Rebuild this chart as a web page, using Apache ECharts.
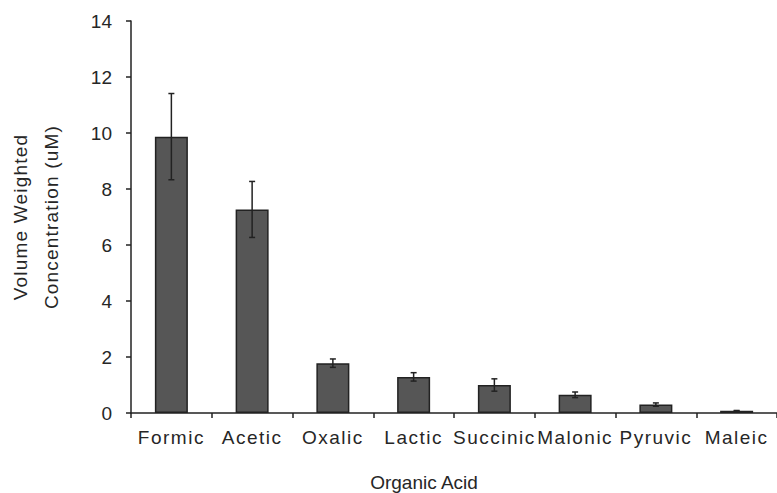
<!DOCTYPE html>
<html>
<head>
<meta charset="utf-8">
<style>
  html, body { margin: 0; padding: 0; background: #fff; }
  #chart { width: 777px; height: 493px; }
</style>
<script src="https://cdn.jsdelivr.net/npm/echarts@6/dist/echarts.min.js"></script>
</head>
<body>
<div id="chart"></div>
<script>
// Organic acid volume-weighted concentrations (uM) with standard error
const acids = ['Formic', 'Acetic', 'Oxalic', 'Lactic', 'Succinic', 'Malonic', 'Pyruvic', 'Maleic'];
const concentration = [9.87, 7.27, 1.78, 1.29, 1.00, 0.65, 0.30, 0.08];
const stdError = [1.54, 1.00, 0.15, 0.15, 0.22, 0.10, 0.06, 0.01];
const yTicks = { min: 0, max: 14, step: 2 };

const FONT = 'Liberation Sans, Arial, Helvetica, sans-serif';
const INK = '#222';
const TEXT = '#262626';
const SIZE = 19;

const errorData = acids.map((a, i) => [i, concentration[i] - stdError[i], concentration[i] + stdError[i]]);

const chart = echarts.init(document.getElementById('chart'), null, { renderer: 'svg' });

chart.setOption({
  animation: false,
  backgroundColor: '#fff',
  textStyle: { fontFamily: FONT },
  grid: { left: 131, right: 0, top: 21, bottom: 80, containLabel: false, outerBoundsMode: 'none' },
  title: {
    text: 'Organic Acid',
    left: 419,
    top: 468,
    textAlign: 'center',
    textStyle: { fontFamily: FONT, fontSize: SIZE, fontWeight: 'normal', color: TEXT }
  },
  xAxis: {
    type: 'category',
    data: acids,
    axisLine: { lineStyle: { color: INK, width: 1.5 } },
    axisTick: { show: true, length: 5, lineStyle: { color: INK, width: 1.5 } },
    axisLabel: { color: TEXT, fontSize: SIZE, fontFamily: FONT, margin: 15, interval: 0 },
    splitLine: { show: false }
  },
  yAxis: {
    type: 'value',
    min: yTicks.min,
    max: yTicks.max,
    interval: yTicks.step,
    name: 'Volume Weighted\nConcentration (uM)',
    nameLocation: 'middle',
    nameGap: 64,
    nameTextStyle: { color: TEXT, fontSize: SIZE, fontFamily: FONT, lineHeight: 31 },
    axisLine: { show: true, lineStyle: { color: INK, width: 1.5 } },
    axisTick: { show: true, length: 5, lineStyle: { color: INK, width: 1.5 } },
    axisLabel: { color: TEXT, fontSize: SIZE, fontFamily: FONT, margin: 19 },
    splitLine: { show: false }
  },
  series: [
    {
      type: 'bar',
      data: concentration,
      barWidth: 33,
      itemStyle: { color: '#565656', borderColor: INK, borderWidth: 1.5 }
    },
    {
      type: 'custom',
      data: errorData,
      z: 10,
      renderItem: function (params, api) {
        const x = api.value(0);
        const lo = api.coord([x, api.value(1)]);
        const hi = api.coord([x, api.value(2)]);
        const half = 3;
        const style = { stroke: INK, lineWidth: 1.5, fill: 'none' };
        return {
          type: 'group',
          children: [
            { type: 'line', shape: { x1: hi[0], y1: hi[1], x2: lo[0], y2: lo[1] }, style },
            { type: 'line', shape: { x1: hi[0] - half, y1: hi[1], x2: hi[0] + half, y2: hi[1] }, style },
            { type: 'line', shape: { x1: lo[0] - half, y1: lo[1], x2: lo[0] + half, y2: lo[1] }, style }
          ]
        };
      }
    }
  ]
});

// Wider tracking on the category names and the vertical axis title
const catSet = new Set(acids);
const titleSet = new Set(['Volume Weighted', 'Concentration (uM)']);
document.querySelectorAll('#chart svg text').forEach(function (t) {
  const s = t.textContent.trim();
  if (catSet.has(s)) {
    t.style.letterSpacing = '1.5px';
  } else if (titleSet.has(s)) {
    t.style.letterSpacing = '1.2px';
  }
});
</script>
</body>
</html>
